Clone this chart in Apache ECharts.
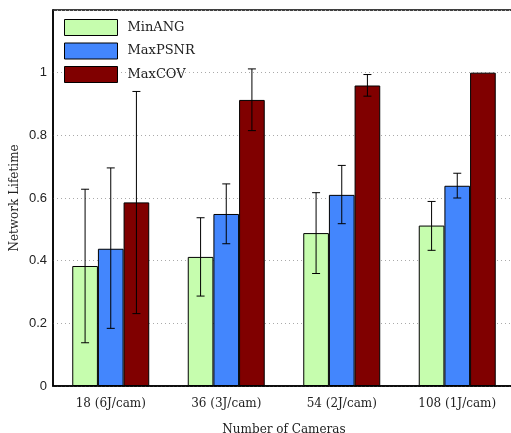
<!DOCTYPE html>
<html><head><meta charset="utf-8">
<script src="https://cdn.jsdelivr.net/npm/echarts@6/dist/echarts.min.js"></script>
<style>html,body{margin:0;padding:0;background:#fff}#c{width:511px;height:433px}</style>
</head><body><div id="c"></div>
<script>
const categories = ['18 (6J/cam)', '36 (3J/cam)', '54 (2J/cam)', '108 (1J/cam)'];
const seriesNames = ['MinANG', 'MaxPSNR', 'MaxCOV'];
const minANG = [0.383, 0.412, 0.488, 0.512];
const maxPSNR = [0.438, 0.549, 0.610, 0.639];
const maxCOV = [0.586, 0.913, 0.959, 1.0];
const minANGLow = [0.138, 0.287, 0.359, 0.433];
const minANGHigh = [0.628, 0.537, 0.617, 0.589];
const maxPSNRLow = [0.184, 0.454, 0.518, 0.600];
const maxPSNRHigh = [0.696, 0.645, 0.704, 0.679];
const maxCOVLow = [0.231, 0.815, 0.925, 1.0];
const maxCOVHigh = [0.940, 1.012, 0.994, 1.0];
const yTicks = [0, 0.2, 0.4, 0.6, 0.8, 1, 1.2];

const colors = ['#c6fdae', '#4386fd', '#800000'];
const values = [minANG, maxPSNR, maxCOV];
const lows = [minANGLow, maxPSNRLow, maxCOVLow];
const highs = [minANGHigh, maxPSNRHigh, maxCOVHigh];
const BARFRAC = 0.2222;

const series = [];
seriesNames.forEach((n, i) => {
  series.push({
    name: n, type: 'bar', data: values[i], barWidth: (BARFRAC * 100) + '%', barGap: '0%',
    itemStyle: { color: colors[i], borderColor: '#000', borderWidth: 1 },
    z: 2
  });
});
seriesNames.forEach((n, i) => {
  series.push({
    type: 'custom', name: n + ' err', silent: true, z: 5,
    data: categories.map((c, j) => [j, lows[i][j], highs[i][j]]),
    renderItem: function (params, api) {
      const x = api.value(0);
      const lo = api.coord([x, api.value(1)]);
      const hi = api.coord([x, api.value(2)]);
      const band = api.size([1, 0])[0];
      const off = (i - 1) * band * BARFRAC;
      const cx = lo[0] + off;
      if (Math.abs(hi[1] - lo[1]) < 0.5) return null;
      const cap = 4;
      const st = { stroke: '#000', lineWidth: 1 };
      return {
        type: 'group', children: [
          { type: 'line', shape: { x1: cx, y1: lo[1], x2: cx, y2: hi[1] }, style: st },
          { type: 'line', shape: { x1: cx - cap, y1: lo[1], x2: cx + cap, y2: lo[1] }, style: st },
          { type: 'line', shape: { x1: cx - cap, y1: hi[1], x2: cx + cap, y2: hi[1] }, style: st }
        ]
      };
    }
  });
});

const chart = echarts.init(document.getElementById('c'));
chart.setOption({
  animation: false,
  backgroundColor: '#fff',
  grid: { left: 53, top: 10, right: -4, bottom: 47, containLabel: false, outerBoundsMode: 'none',
          show: true, borderColor: '#000', borderWidth: 1.5 },
  legend: {
    data: seriesNames, orient: 'vertical', left: 59, top: 14,
    itemWidth: 53, itemHeight: 16, itemGap: 6.5, icon: 'rect',
    textStyle: { fontFamily: 'DejaVu Serif', fontSize: 13, color: '#222', padding: [0, 0, 0, 5] },
    itemStyle: { borderColor: '#000', borderWidth: 1 }
  },
  xAxis: {
    type: 'category', data: categories,
    name: 'Number of Cameras', nameLocation: 'middle', nameGap: 38, nameMoveOverlap: false,
    nameTextStyle: { fontFamily: 'DejaVu Serif', fontSize: 12, color: '#222' },
    axisLine: { lineStyle: { color: '#000', width: 1.5 } },
    axisTick: { alignWithLabel: true, inside: true, length: 3, lineStyle: { color: '#888' } },
    axisLabel: { fontFamily: 'DejaVu Serif', fontSize: 12, color: '#222', margin: 12 }
  },
  yAxis: {
    type: 'value', min: 0, max: 1.2, interval: 0.2,
    name: 'Network Lifetime', nameLocation: 'middle', nameGap: 32, nameMoveOverlap: false,
    nameTextStyle: { fontFamily: 'DejaVu Serif', fontSize: 12, color: '#222' },
    axisLine: { show: true, lineStyle: { color: '#000', width: 1.5 } },
    axisTick: { show: false },
    splitLine: { lineStyle: { color: '#aaa', type: [1, 3], width: 1 } },
    axisLabel: {
      fontFamily: 'Liberation Sans', fontSize: 13, color: '#222', margin: 6,
      showMaxLabel: false,
      formatter: v => yTicks.indexOf(Math.round(v * 10) / 10) >= 0 ? String(Math.round(v * 10) / 10) : ''
    }
  },
  series: series
});
</script></body></html>
